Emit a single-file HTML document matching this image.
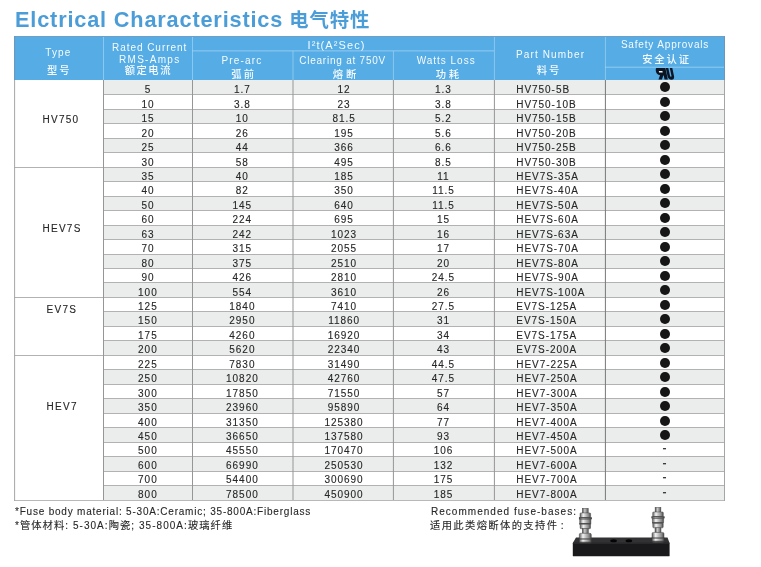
<!DOCTYPE html>
<html lang="zh">
<head>
<meta charset="utf-8">
<title>Elctrical Characteristics 电气特性</title>
<style>
html,body{margin:0;padding:0;background:#fff;}
body{width:761px;height:567px;position:relative;overflow:hidden;font-family:"Liberation Sans","Noto Sans CJK SC",sans-serif;color:#2b2b2b;}
.abs{position:absolute;}
h1{position:absolute;left:15px;top:8px;margin:0;font-size:21.7px;line-height:24px;font-weight:bold;color:#4b9dd8;letter-spacing:.84px;white-space:nowrap;}
h1 span{position:absolute;left:274.2px;top:-0.4px;font-size:19.4px;letter-spacing:.9px;}
.tbl{position:absolute;left:0;top:0;width:761px;height:567px;}
.hd{position:absolute;background:#56ace4;}
.ht{position:absolute;width:200px;height:12px;line-height:12px;text-align:center;color:#f6fbff;white-space:nowrap;}
.row{position:absolute;left:103px;width:622px;}
.row.g{background:#ebecec;}
.c{position:absolute;width:120px;height:14px;line-height:14px;text-align:center;font-size:10px;letter-spacing:0.95px;white-space:nowrap;color:#262626;-webkit-text-stroke:.12px #2a2a2a;}
.c.pn{text-align:left;}
.ln{position:absolute;}
.dot{position:absolute;width:9.8px;height:9.8px;border-radius:50%;background:#161616;}
.fn{position:absolute;font-size:10px;letter-spacing:.7px;white-space:nowrap;color:#262626;-webkit-text-stroke:.1px #2a2a2a;}
.zh{font-size:10.3px;}
.ht.zh{font-weight:500;}
</style>
</head>
<body>
<h1>Elctrical Characteristics <span>电气特性</span></h1>
<div class="tbl">

<div class="hd" style="left:14px;top:36px;width:711px;height:44px"></div>
<div class="ht" style="left:-41.70px;top:46.50px;letter-spacing:1.1px;font-size:10px">Type</div>
<div class="ht zh" style="left:-40.65px;top:64.50px;letter-spacing:2.0px;font-size:10.3px">型号</div>
<div class="ht" style="left:49.63px;top:42.00px;letter-spacing:0.96px;font-size:10px">Rated Current</div>
<div class="ht" style="left:49.75px;top:54.00px;letter-spacing:1.3px;font-size:10px">RMS-Amps</div>
<div class="ht zh" style="left:48.39px;top:65.10px;letter-spacing:1.47px;font-size:10.3px">额定电流</div>
<div class="ht" style="left:236.55px;top:38.80px;letter-spacing:1.1px;font-size:11px">I²t(A²Sec)</div>
<div class="ht" style="left:141.89px;top:55.00px;letter-spacing:1.17px;font-size:10px">Pre-arc</div>
<div class="ht zh" style="left:143.75px;top:68.50px;letter-spacing:2.3px;font-size:10.3px">弧前</div>
<div class="ht" style="left:242.63px;top:55.00px;letter-spacing:0.77px;font-size:10px">Clearing at 750V</div>
<div class="ht zh" style="left:246.05px;top:68.50px;letter-spacing:3.0px;font-size:10.3px">熔断</div>
<div class="ht" style="left:346.19px;top:55.00px;letter-spacing:0.98px;font-size:10px">Watts Loss</div>
<div class="ht zh" style="left:348.65px;top:68.50px;letter-spacing:2.7px;font-size:10.3px">功耗</div>
<div class="ht" style="left:450.56px;top:49.10px;letter-spacing:1.13px;font-size:10px">Part Number</div>
<div class="ht zh" style="left:448.95px;top:64.90px;letter-spacing:1.9px;font-size:10.3px">料号</div>
<div class="ht" style="left:565.06px;top:38.70px;letter-spacing:0.83px;font-size:10px">Safety Approvals</div>
<div class="ht zh" style="left:566.62px;top:53.80px;letter-spacing:1.93px;font-size:10.3px">安全认证</div>
<div class="ln" style="left:103px;top:36px;width:1px;height:44px;background:rgba(160,212,246,0.70)"></div>
<div class="ln" style="left:192px;top:36px;width:1px;height:44px;background:rgba(160,212,246,0.70)"></div>
<div class="ln" style="left:292px;top:51px;width:1px;height:29px;background:rgba(160,212,246,0.35)"></div>
<div class="ln" style="left:293px;top:51px;width:1px;height:29px;background:rgba(160,212,246,0.35)"></div>
<div class="ln" style="left:392px;top:51px;width:1px;height:29px;background:rgba(160,212,246,0.07)"></div>
<div class="ln" style="left:393px;top:51px;width:1px;height:29px;background:rgba(160,212,246,0.63)"></div>
<div class="ln" style="left:493px;top:36px;width:1px;height:44px;background:rgba(160,212,246,0.07)"></div>
<div class="ln" style="left:494px;top:36px;width:1px;height:44px;background:rgba(160,212,246,0.63)"></div>
<div class="ln" style="left:604px;top:36px;width:1px;height:44px;background:rgba(160,212,246,0.07)"></div>
<div class="ln" style="left:605px;top:36px;width:1px;height:44px;background:rgba(160,212,246,0.63)"></div>
<div class="ln" style="left:192px;top:50px;width:302px;height:1px;background:rgba(160,212,246,0.48)"></div>
<div class="ln" style="left:192px;top:51px;width:302px;height:1px;background:rgba(160,212,246,0.32)"></div>
<div class="ln" style="left:605px;top:66px;width:119px;height:1px;background:rgba(160,212,246,0.24)"></div>
<div class="ln" style="left:605px;top:67px;width:119px;height:1px;background:rgba(160,212,246,0.56)"></div>
<svg class="abs" style="left:654px;top:67px" width="24" height="14" viewBox="0 0 24 14"><g transform="translate(1.2,1) skewX(12)">
<path fill="#0b1422" d="M1.4,0 H10.2 V11.6 H6.9 V7.6 H6.4 L4.3,11.6 H0.8 L3.3,7.3 C1,6.9 0,5.6 0,3.8 C0,1.4 0.5,0 1.4,0 Z"/>
<rect x="3" y="2.9" width="3.6" height="1.5" fill="#eef4f9"/>
<path fill="#0b1422" d="M10.6,0 H13.1 V7.8 C13.1,9.1 14.6,9.1 14.6,7.8 V0 H17.1 V8.2 C17.1,12.9 10.6,12.9 10.6,8.2 Z"/>
</g></svg>
<div class="row g" style="top:80px;height:14px"><div class="c" style="left:-15.12px;top:3.33px">5</div><div class="c" style="left:79.38px;top:3.33px">1.7</div><div class="c" style="left:181.08px;top:3.33px">12</div><div class="c" style="left:280.48px;top:3.33px">1.3</div><div class="c pn" style="left:413.30px;top:3.33px">HV750-5B</div><div class="dot" style="left:556.95px;top:2.47px"></div></div>
<div class="row" style="top:94px;height:15px"><div class="c" style="left:-15.12px;top:3.78px">10</div><div class="c" style="left:79.38px;top:3.78px">3.8</div><div class="c" style="left:181.08px;top:3.78px">23</div><div class="c" style="left:280.48px;top:3.78px">3.8</div><div class="c pn" style="left:413.30px;top:3.78px">HV750-10B</div><div class="dot" style="left:556.95px;top:2.96px"></div></div>
<div class="row g" style="top:109px;height:14px"><div class="c" style="left:-15.12px;top:3.22px">15</div><div class="c" style="left:79.38px;top:3.22px">10</div><div class="c" style="left:181.08px;top:3.22px">81.5</div><div class="c" style="left:280.48px;top:3.22px">5.2</div><div class="c pn" style="left:413.30px;top:3.22px">HV750-15B</div><div class="dot" style="left:556.95px;top:2.45px"></div></div>
<div class="row" style="top:123px;height:15px"><div class="c" style="left:-15.12px;top:3.66px">20</div><div class="c" style="left:79.38px;top:3.66px">26</div><div class="c" style="left:181.08px;top:3.66px">195</div><div class="c" style="left:280.48px;top:3.66px">5.6</div><div class="c pn" style="left:413.30px;top:3.66px">HV750-20B</div><div class="dot" style="left:556.95px;top:2.94px"></div></div>
<div class="row g" style="top:138px;height:14px"><div class="c" style="left:-15.12px;top:3.11px">25</div><div class="c" style="left:79.38px;top:3.11px">44</div><div class="c" style="left:181.08px;top:3.11px">366</div><div class="c" style="left:280.48px;top:3.11px">6.6</div><div class="c pn" style="left:413.30px;top:3.11px">HV750-25B</div><div class="dot" style="left:556.95px;top:2.43px"></div></div>
<div class="row" style="top:152px;height:15px"><div class="c" style="left:-15.12px;top:3.55px">30</div><div class="c" style="left:79.38px;top:3.55px">58</div><div class="c" style="left:181.08px;top:3.55px">495</div><div class="c" style="left:280.48px;top:3.55px">8.5</div><div class="c pn" style="left:413.30px;top:3.55px">HV750-30B</div><div class="dot" style="left:556.95px;top:2.92px"></div></div>
<div class="row g" style="top:167px;height:14px"><div class="c" style="left:-15.12px;top:2.99px">35</div><div class="c" style="left:79.38px;top:2.99px">40</div><div class="c" style="left:181.08px;top:2.99px">185</div><div class="c" style="left:280.48px;top:2.99px">11</div><div class="c pn" style="left:413.30px;top:2.99px">HEV7S-35A</div><div class="dot" style="left:556.95px;top:2.41px"></div></div>
<div class="row" style="top:181px;height:15px"><div class="c" style="left:-15.12px;top:3.44px">40</div><div class="c" style="left:79.38px;top:3.44px">82</div><div class="c" style="left:181.08px;top:3.44px">350</div><div class="c" style="left:280.48px;top:3.44px">11.5</div><div class="c pn" style="left:413.30px;top:3.44px">HEV7S-40A</div><div class="dot" style="left:556.95px;top:2.91px"></div></div>
<div class="row g" style="top:196px;height:14px"><div class="c" style="left:-15.12px;top:2.88px">50</div><div class="c" style="left:79.38px;top:2.88px">145</div><div class="c" style="left:181.08px;top:2.88px">640</div><div class="c" style="left:280.48px;top:2.88px">11.5</div><div class="c pn" style="left:413.30px;top:2.88px">HEV7S-50A</div><div class="dot" style="left:556.95px;top:2.40px"></div></div>
<div class="row" style="top:210px;height:15px"><div class="c" style="left:-15.12px;top:3.32px">60</div><div class="c" style="left:79.38px;top:3.32px">224</div><div class="c" style="left:181.08px;top:3.32px">695</div><div class="c" style="left:280.48px;top:3.32px">15</div><div class="c pn" style="left:413.30px;top:3.32px">HEV7S-60A</div><div class="dot" style="left:556.95px;top:2.88px"></div></div>
<div class="row g" style="top:225px;height:14px"><div class="c" style="left:-15.12px;top:2.77px">63</div><div class="c" style="left:79.38px;top:2.77px">242</div><div class="c" style="left:181.08px;top:2.77px">1023</div><div class="c" style="left:280.48px;top:2.77px">16</div><div class="c pn" style="left:413.30px;top:2.77px">HEV7S-63A</div><div class="dot" style="left:556.95px;top:2.38px"></div></div>
<div class="row" style="top:239px;height:15px"><div class="c" style="left:-15.12px;top:3.21px">70</div><div class="c" style="left:79.38px;top:3.21px">315</div><div class="c" style="left:181.08px;top:3.21px">2055</div><div class="c" style="left:280.48px;top:3.21px">17</div><div class="c pn" style="left:413.30px;top:3.21px">HEV7S-70A</div><div class="dot" style="left:556.95px;top:2.86px"></div></div>
<div class="row g" style="top:254px;height:14px"><div class="c" style="left:-15.12px;top:2.65px">80</div><div class="c" style="left:79.38px;top:2.65px">375</div><div class="c" style="left:181.08px;top:2.65px">2510</div><div class="c" style="left:280.48px;top:2.65px">20</div><div class="c pn" style="left:413.30px;top:2.65px">HEV7S-80A</div><div class="dot" style="left:556.95px;top:2.35px"></div></div>
<div class="row" style="top:268px;height:14px"><div class="c" style="left:-15.12px;top:3.09px">90</div><div class="c" style="left:79.38px;top:3.09px">426</div><div class="c" style="left:181.08px;top:3.09px">2810</div><div class="c" style="left:280.48px;top:3.09px">24.5</div><div class="c pn" style="left:413.30px;top:3.09px">HEV7S-90A</div><div class="dot" style="left:556.95px;top:2.85px"></div></div>
<div class="row g" style="top:282px;height:15px"><div class="c" style="left:-15.12px;top:3.54px">100</div><div class="c" style="left:79.38px;top:3.54px">554</div><div class="c" style="left:181.08px;top:3.54px">3610</div><div class="c" style="left:280.48px;top:3.54px">26</div><div class="c pn" style="left:413.30px;top:3.54px">HEV7S-100A</div><div class="dot" style="left:556.95px;top:3.34px"></div></div>
<div class="row" style="top:297px;height:14px"><div class="c" style="left:-15.12px;top:2.98px">125</div><div class="c" style="left:79.38px;top:2.98px">1840</div><div class="c" style="left:181.08px;top:2.98px">7410</div><div class="c" style="left:280.48px;top:2.98px">27.5</div><div class="c pn" style="left:413.30px;top:2.98px">EV7S-125A</div><div class="dot" style="left:556.95px;top:2.83px"></div></div>
<div class="row g" style="top:311px;height:15px"><div class="c" style="left:-15.12px;top:3.42px">150</div><div class="c" style="left:79.38px;top:3.42px">2950</div><div class="c" style="left:181.08px;top:3.42px">11860</div><div class="c" style="left:280.48px;top:3.42px">31</div><div class="c pn" style="left:413.30px;top:3.42px">EV7S-150A</div><div class="dot" style="left:556.95px;top:3.32px"></div></div>
<div class="row" style="top:326px;height:14px"><div class="c" style="left:-15.12px;top:2.87px">175</div><div class="c" style="left:79.38px;top:2.87px">4260</div><div class="c" style="left:181.08px;top:2.87px">16920</div><div class="c" style="left:280.48px;top:2.87px">34</div><div class="c pn" style="left:413.30px;top:2.87px">EV7S-175A</div><div class="dot" style="left:556.95px;top:2.81px"></div></div>
<div class="row g" style="top:340px;height:15px"><div class="c" style="left:-15.12px;top:3.31px">200</div><div class="c" style="left:79.38px;top:3.31px">5620</div><div class="c" style="left:181.08px;top:3.31px">22340</div><div class="c" style="left:280.48px;top:3.31px">43</div><div class="c pn" style="left:413.30px;top:3.31px">EV7S-200A</div><div class="dot" style="left:556.95px;top:3.29px"></div></div>
<div class="row" style="top:355px;height:14px"><div class="c" style="left:-15.12px;top:2.75px">225</div><div class="c" style="left:79.38px;top:2.75px">7830</div><div class="c" style="left:181.08px;top:2.75px">31490</div><div class="c" style="left:280.48px;top:2.75px">44.5</div><div class="c pn" style="left:413.30px;top:2.75px">HEV7-225A</div><div class="dot" style="left:556.95px;top:2.79px"></div></div>
<div class="row g" style="top:369px;height:15px"><div class="c" style="left:-15.12px;top:3.20px">250</div><div class="c" style="left:79.38px;top:3.20px">10820</div><div class="c" style="left:181.08px;top:3.20px">42760</div><div class="c" style="left:280.48px;top:3.20px">47.5</div><div class="c pn" style="left:413.30px;top:3.20px">HEV7-250A</div><div class="dot" style="left:556.95px;top:3.28px"></div></div>
<div class="row" style="top:384px;height:14px"><div class="c" style="left:-15.12px;top:2.64px">300</div><div class="c" style="left:79.38px;top:2.64px">17850</div><div class="c" style="left:181.08px;top:2.64px">71550</div><div class="c" style="left:280.48px;top:2.64px">57</div><div class="c pn" style="left:413.30px;top:2.64px">HEV7-300A</div><div class="dot" style="left:556.95px;top:2.77px"></div></div>
<div class="row g" style="top:398px;height:15px"><div class="c" style="left:-15.12px;top:3.08px">350</div><div class="c" style="left:79.38px;top:3.08px">23960</div><div class="c" style="left:181.08px;top:3.08px">95890</div><div class="c" style="left:280.48px;top:3.08px">64</div><div class="c pn" style="left:413.30px;top:3.08px">HEV7-350A</div><div class="dot" style="left:556.95px;top:3.25px"></div></div>
<div class="row" style="top:413px;height:14px"><div class="c" style="left:-15.12px;top:2.52px">400</div><div class="c" style="left:79.38px;top:2.52px">31350</div><div class="c" style="left:181.08px;top:2.52px">125380</div><div class="c" style="left:280.48px;top:2.52px">77</div><div class="c pn" style="left:413.30px;top:2.52px">HEV7-400A</div><div class="dot" style="left:556.95px;top:2.74px"></div></div>
<div class="row g" style="top:427px;height:15px"><div class="c" style="left:-15.12px;top:2.97px">450</div><div class="c" style="left:79.38px;top:2.97px">36650</div><div class="c" style="left:181.08px;top:2.97px">137580</div><div class="c" style="left:280.48px;top:2.97px">93</div><div class="c pn" style="left:413.30px;top:2.97px">HEV7-450A</div><div class="dot" style="left:556.95px;top:3.23px"></div></div>
<div class="row" style="top:442px;height:14px"><div class="c" style="left:-15.12px;top:2.41px">500</div><div class="c" style="left:79.38px;top:2.41px">45550</div><div class="c" style="left:181.08px;top:2.41px">170470</div><div class="c" style="left:280.48px;top:2.41px">106</div><div class="c pn" style="left:413.30px;top:2.41px">HEV7-500A</div><div class="c" style="left:502.10px;top:-0.57px;color:#333;font-size:12px">-</div></div>
<div class="row g" style="top:456px;height:15px"><div class="c" style="left:-15.12px;top:2.85px">600</div><div class="c" style="left:79.38px;top:2.85px">66990</div><div class="c" style="left:181.08px;top:2.85px">250530</div><div class="c" style="left:280.48px;top:2.85px">132</div><div class="c pn" style="left:413.30px;top:2.85px">HEV7-600A</div><div class="c" style="left:502.10px;top:-0.08px;color:#333;font-size:12px">-</div></div>
<div class="row" style="top:471px;height:14px"><div class="c" style="left:-15.12px;top:2.30px">700</div><div class="c" style="left:79.38px;top:2.30px">54400</div><div class="c" style="left:181.08px;top:2.30px">300690</div><div class="c" style="left:280.48px;top:2.30px">175</div><div class="c pn" style="left:413.30px;top:2.30px">HEV7-700A</div><div class="c" style="left:502.10px;top:-0.59px;color:#333;font-size:12px">-</div></div>
<div class="row g" style="top:485px;height:15px"><div class="c" style="left:-15.12px;top:2.74px">800</div><div class="c" style="left:79.38px;top:2.74px">78500</div><div class="c" style="left:181.08px;top:2.74px">450900</div><div class="c" style="left:280.48px;top:2.74px">185</div><div class="c pn" style="left:413.30px;top:2.74px">HEV7-800A</div><div class="c" style="left:502.10px;top:-0.10px;color:#333;font-size:12px">-</div></div>
<div class="c pn" style="left:42.40px;top:113.30px;letter-spacing:1.3px">HV750</div>
<div class="c pn" style="left:42.40px;top:222.20px;letter-spacing:1.3px">HEV7S</div>
<div class="c pn" style="left:46.50px;top:303.00px;letter-spacing:1.3px">EV7S</div>
<div class="c pn" style="left:46.50px;top:399.60px;letter-spacing:1.3px">HEV7</div>
<div class="ln" style="left:103px;top:94px;width:622px;height:1px;background:#b2b2b2"></div>
<div class="ln" style="left:103px;top:109px;width:622px;height:1px;background:#b2b2b2"></div>
<div class="ln" style="left:103px;top:123px;width:622px;height:1px;background:#b2b2b2"></div>
<div class="ln" style="left:103px;top:138px;width:622px;height:1px;background:#b2b2b2"></div>
<div class="ln" style="left:103px;top:152px;width:622px;height:1px;background:#b2b2b2"></div>
<div class="ln" style="left:14px;top:167px;width:711px;height:1px;background:#b2b2b2"></div>
<div class="ln" style="left:103px;top:181px;width:622px;height:1px;background:#b2b2b2"></div>
<div class="ln" style="left:103px;top:196px;width:622px;height:1px;background:#b2b2b2"></div>
<div class="ln" style="left:103px;top:210px;width:622px;height:1px;background:#b2b2b2"></div>
<div class="ln" style="left:103px;top:225px;width:622px;height:1px;background:#b2b2b2"></div>
<div class="ln" style="left:103px;top:239px;width:622px;height:1px;background:#b2b2b2"></div>
<div class="ln" style="left:103px;top:254px;width:622px;height:1px;background:#b2b2b2"></div>
<div class="ln" style="left:103px;top:268px;width:622px;height:1px;background:#b2b2b2"></div>
<div class="ln" style="left:103px;top:282px;width:622px;height:1px;background:#b2b2b2"></div>
<div class="ln" style="left:14px;top:297px;width:711px;height:1px;background:#b2b2b2"></div>
<div class="ln" style="left:103px;top:311px;width:622px;height:1px;background:#b2b2b2"></div>
<div class="ln" style="left:103px;top:326px;width:622px;height:1px;background:#b2b2b2"></div>
<div class="ln" style="left:103px;top:340px;width:622px;height:1px;background:#b2b2b2"></div>
<div class="ln" style="left:14px;top:355px;width:711px;height:1px;background:#b2b2b2"></div>
<div class="ln" style="left:103px;top:369px;width:622px;height:1px;background:#b2b2b2"></div>
<div class="ln" style="left:103px;top:384px;width:622px;height:1px;background:#b2b2b2"></div>
<div class="ln" style="left:103px;top:398px;width:622px;height:1px;background:#b2b2b2"></div>
<div class="ln" style="left:103px;top:413px;width:622px;height:1px;background:#b2b2b2"></div>
<div class="ln" style="left:103px;top:427px;width:622px;height:1px;background:#b2b2b2"></div>
<div class="ln" style="left:103px;top:442px;width:622px;height:1px;background:#b2b2b2"></div>
<div class="ln" style="left:103px;top:456px;width:622px;height:1px;background:#b2b2b2"></div>
<div class="ln" style="left:103px;top:471px;width:622px;height:1px;background:#b2b2b2"></div>
<div class="ln" style="left:103px;top:485px;width:622px;height:1px;background:#b2b2b2"></div>
<div class="ln" style="left:14px;top:500px;width:711px;height:1px;background:#b8b8b8"></div>
<div class="ln" style="left:14px;top:36px;width:711px;height:1px;background:#6f9fc4"></div>
<div class="ln" style="left:14px;top:36px;width:1px;height:44px;background:rgba(110,150,185,0.90)"></div>
<div class="ln" style="left:15px;top:36px;width:1px;height:44px;background:rgba(110,150,185,0.10)"></div>
<div class="ln" style="left:14px;top:80px;width:1px;height:421px;background:rgba(165,165,165,0.90)"></div>
<div class="ln" style="left:15px;top:80px;width:1px;height:421px;background:rgba(165,165,165,0.10)"></div>
<div class="ln" style="left:103px;top:80px;width:1px;height:420px;background:rgba(150,150,150,1.00)"></div>
<div class="ln" style="left:192px;top:80px;width:1px;height:420px;background:rgba(150,150,150,1.00)"></div>
<div class="ln" style="left:292px;top:80px;width:1px;height:420px;background:rgba(150,150,150,0.50)"></div>
<div class="ln" style="left:293px;top:80px;width:1px;height:420px;background:rgba(150,150,150,0.50)"></div>
<div class="ln" style="left:392px;top:80px;width:1px;height:420px;background:rgba(150,150,150,0.10)"></div>
<div class="ln" style="left:393px;top:80px;width:1px;height:420px;background:rgba(150,150,150,0.90)"></div>
<div class="ln" style="left:493px;top:80px;width:1px;height:420px;background:rgba(150,150,150,0.10)"></div>
<div class="ln" style="left:494px;top:80px;width:1px;height:420px;background:rgba(150,150,150,0.90)"></div>
<div class="ln" style="left:604px;top:80px;width:1px;height:420px;background:rgba(120,120,120,0.10)"></div>
<div class="ln" style="left:605px;top:80px;width:1px;height:420px;background:rgba(120,120,120,0.90)"></div>
<div class="ln" style="left:724px;top:36px;width:1px;height:44px;background:rgba(110,150,185,1.00)"></div>
<div class="ln" style="left:724px;top:80px;width:1px;height:421px;background:rgba(165,165,165,1.00)"></div>
</div>
<div class="fn" style="left:15px;top:505px;line-height:13px;letter-spacing:.79px">*Fuse body material: 5-30A:Ceramic; 35-800A:Fiberglass</div>
<div class="fn" style="left:15px;top:518.5px;line-height:14px;letter-spacing:1.04px">*<span class="zh">管体材料</span>: 5-30A:<span class="zh">陶瓷</span>; 35-800A:<span class="zh">玻璃纤维</span></div>
<div class="fn" style="left:431px;top:505px;line-height:13px;letter-spacing:1.03px">Recommended fuse-bases:</div>
<div class="fn zh" style="left:430px;top:518.5px;line-height:14px;letter-spacing:1.37px">适用此类熔断体的支持件<span style="margin-left:2.3px">:</span></div>
<svg class="abs" style="left:565px;top:500px" width="115" height="62" viewBox="0 0 115 62">
<defs>
<linearGradient id="m" x1="0" x2="1" y1="0" y2="0"><stop offset="0" stop-color="#5d5d5d"/><stop offset=".3" stop-color="#f2f2f2"/><stop offset=".55" stop-color="#bdbdbd"/><stop offset=".8" stop-color="#8a8a8a"/><stop offset="1" stop-color="#4a4a4a"/></linearGradient>
<linearGradient id="t" x1="0" x2="1" y1="0" y2="0"><stop offset="0" stop-color="#4e4e4e"/><stop offset=".4" stop-color="#c9c9c9"/><stop offset="1" stop-color="#555"/></linearGradient>
</defs>
<polygon points="11,37.5 102.5,37.5 104.6,43 7.8,43" fill="#323234"/>
<rect x="7.8" y="42.8" width="96.8" height="13.5" rx=".6" fill="#19191b"/>
<rect x="7.8" y="42.8" width="96.8" height="1" fill="#3a3a3d" opacity=".6"/>
<ellipse cx="48.6" cy="40.8" rx="3.3" ry="1.5" fill="#040404"/>
<ellipse cx="63.9" cy="40.8" rx="3.3" ry="1.5" fill="#040404"/>
<g transform="translate(20.3,8.3)" stroke="#3d3d3d" stroke-width=".45">
<rect x="-2.9" y="0" width="5.8" height="6" fill="url(#t)"/>
<rect x="-5.3" y="4.6" width="10.6" height="4.6" rx=".8" fill="url(#m)"/>
<rect x="-6.1" y="9.2" width="12.2" height="1.8" fill="#3c3c3c"/>
<rect x="-6.1" y="9.6" width="12.2" height="1" fill="url(#m)"/>
<rect x="-5.6" y="11" width="11.2" height="4.2" rx=".8" fill="url(#m)"/>
<rect x="-5.6" y="15.2" width="11.2" height=".8" fill="#333"/>
<rect x="-5.2" y="16" width="10.4" height="4.4" rx=".8" fill="url(#m)"/>
<rect x="-3" y="20.4" width="6" height="5" fill="url(#t)"/>
<rect x="-6" y="25" width="12" height="9.8" rx="1.4" fill="url(#m)"/>
<rect x="-6" y="30.2" width="12" height=".9" fill="#4a4a4a" opacity=".75"/>
<rect x="-6" y="33.6" width="12" height="1.4" rx=".7" fill="#3a3a3a" opacity=".8"/>
</g>
<g transform="translate(93,7.4)" stroke="#3d3d3d" stroke-width=".45">
<rect x="-2.9" y="0" width="5.8" height="6" fill="url(#t)"/>
<rect x="-5.3" y="4.6" width="10.6" height="4.6" rx=".8" fill="url(#m)"/>
<rect x="-6.1" y="9.2" width="12.2" height="1.8" fill="#3c3c3c"/>
<rect x="-6.1" y="9.6" width="12.2" height="1" fill="url(#m)"/>
<rect x="-5.6" y="11" width="11.2" height="4.2" rx=".8" fill="url(#m)"/>
<rect x="-5.6" y="15.2" width="11.2" height=".8" fill="#333"/>
<rect x="-5.2" y="16" width="10.4" height="4.4" rx=".8" fill="url(#m)"/>
<rect x="-3" y="20.4" width="6" height="5" fill="url(#t)"/>
<rect x="-6" y="25" width="12" height="9.8" rx="1.4" fill="url(#m)"/>
<rect x="-6" y="30.2" width="12" height=".9" fill="#4a4a4a" opacity=".75"/>
<rect x="-6" y="33.6" width="12" height="1.4" rx=".7" fill="#3a3a3a" opacity=".8"/>
</g>
</svg>
</body></html>
